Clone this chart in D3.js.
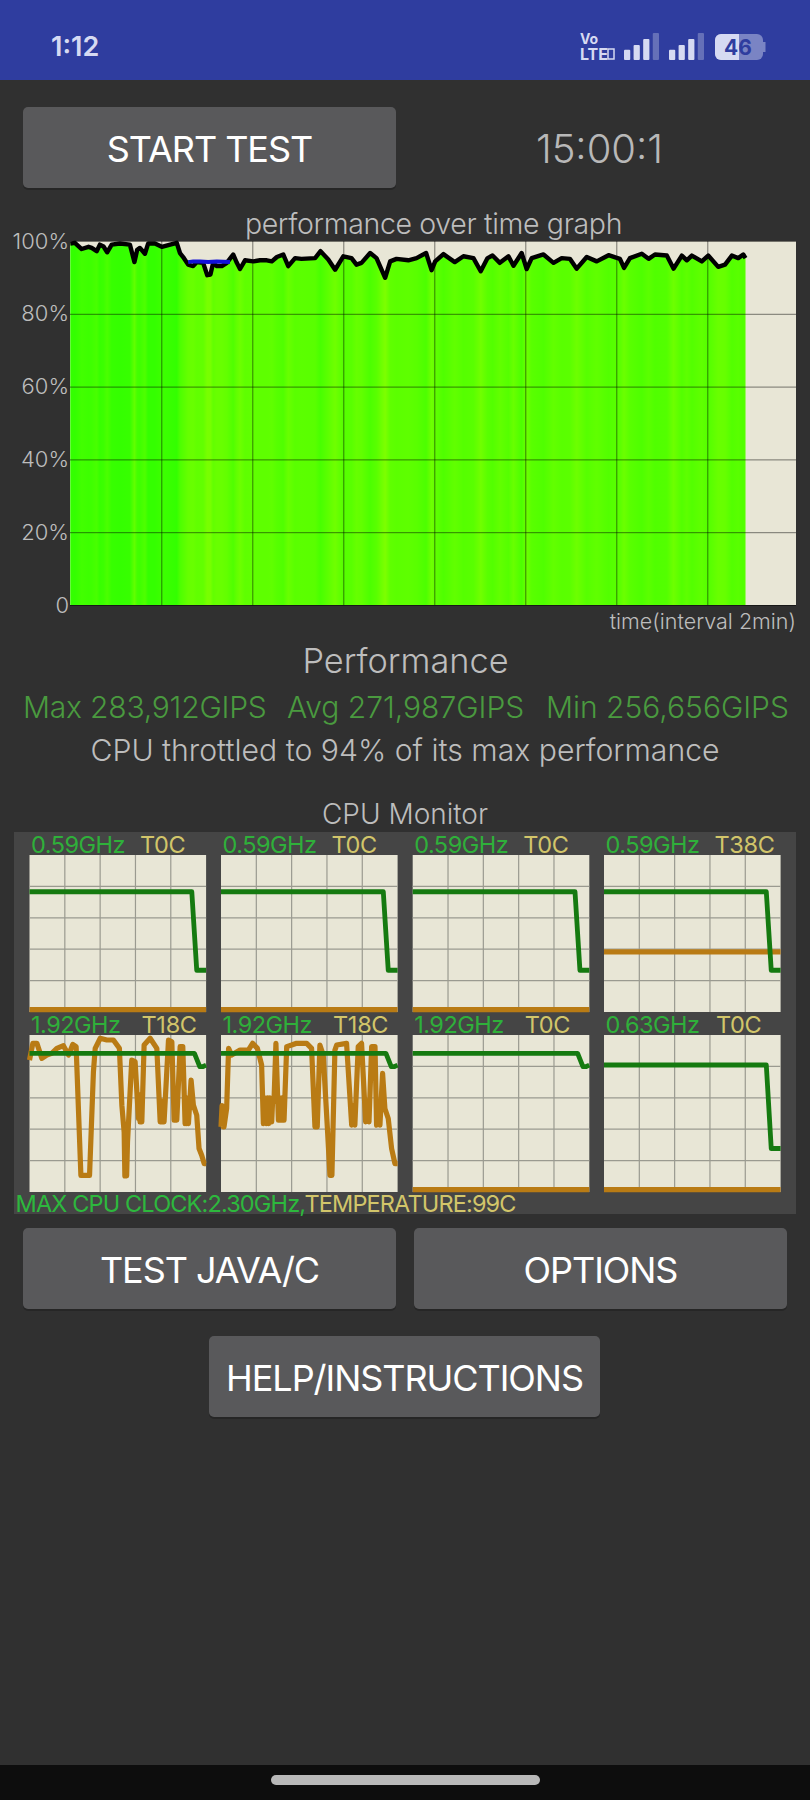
<!DOCTYPE html>
<html>
<head>
<meta charset="utf-8">
<script src="https://cdn.jsdelivr.net/npm/d3@7/dist/d3.min.js"></script>
<style>
  html, body { margin: 0; padding: 0; background: #303030; }
  svg { display: block; font-family: Inter, "Noto Sans", sans-serif; }
</style>
</head>
<body>
<div id="chart"></div>
<script>
// performance over time, minutes / percent of max
const perfTime = [0,0.1,0.25,0.4,0.47,0.58,0.65,0.73,0.81,0.91,1.09,1.31,1.41,1.47,1.53,1.64,1.71,1.86,2.01,2.34,2.41,2.48,2.59,2.7,2.78,2.92,3.01,3.08,3.14,3.22,3.33,3.44,3.58,3.66,3.73,3.84,4.02,4.17,4.32,4.43,4.54,4.68,4.79,4.94,5.08,5.38,5.5,5.67,5.82,6,6.18,6.29,6.4,6.59,6.73,6.92,7.03,7.17,7.43,7.61,7.82,7.94,8.02,8.2,8.45,8.64,8.86,9.02,9.17,9.28,9.44,9.63,9.74,9.92,10.03,10.14,10.4,10.62,10.8,10.98,11.13,11.35,11.57,11.83,12.08,12.17,12.3,12.56,12.71,12.85,13.11,13.26,13.44,13.55,13.66,13.88,14.02,14.24,14.39,14.54,14.68,14.79,14.84];
const perfValue = [99.3,99.5,97.8,98.4,98.1,97.2,99,98.5,96.9,99,99.3,99,94.2,97.6,98.1,96.5,99.3,99.3,98.4,99.5,96.7,95.6,93.5,93.1,94.2,94,90.6,90.8,94,93.1,93.1,94,96.3,94,92.3,94.7,94.4,94.7,94.7,94.4,95.6,96.3,93.1,95.3,95.1,95.3,97.2,94.9,92.1,95.8,95.3,93.5,94,96.7,95.3,89.9,94.4,95.1,94.7,95.3,96.7,92,94.4,96.4,94.2,95.8,95.3,91.7,95.3,96,94,95.8,93.2,96.7,92.3,95.3,96.3,94,95.3,95.1,92.4,95.6,94.4,96.1,95.1,92.6,95.3,96.5,95.1,96.3,96,92.4,96,94.7,96,94.4,96,92.9,93.5,96,95.3,96.3,95.3];
const blueTime = [2.59,2.7,2.85,3.03,3.22,3.51];
const blueValue = [94.2,94.4,94.4,94.2,94.4,94.2];
const yTicks = [0,20,40,60,80,100];
const xTicks = [2,4,6,8,10,12,14];

// CPU monitor, percent of time span / percent of cell height
const stepX = [0,91.9,94.7,100];
const stepLow = [76.6,76.6,26.6,26.6];
const stepFour = [80.9,80.9,27.7,27.7];
const bigCoreX = [0,93.4,96.4,98,100];
const bigCoreFreq = [88.3,88.3,79.8,79.8,80.8];
const coreLabels = ["0.59GHz","0.59GHz","0.59GHz","0.59GHz","1.92GHz","1.92GHz","1.92GHz","0.63GHz"];
const tempLabels = ["T0C","T0C","T0C","T38C","T18C","T18C","T0C","T0C"];
const flatTemp = [1.5,1.5,1.5,38.3];

const core5X = [0,1.9,4.2,7,9.8,12.6,15.5,19.2,22.1,24.5,26.4,29.1,34,36.2,37.2,40,43.8,47.5,50.9,52.3,53.6,54,54.5,55,55.5,57.9,59.8,61.7,62.1,62.6,63,63.6,64.9,68.3,72.1,74,74.6,75.2,75.8,76.2,78.7,80.6,81.9,82.4,82.9,83.4,85.3,86.8,88.1,88.6,89.1,89.6,90,91.5,92.8,94.7,96,97.5,98.9,100];
const core5T = [84,94.7,94.7,85.1,87.2,88.3,91.5,93.2,87.2,94,92.6,10.6,10.6,76.6,91.5,97.9,96.8,96.8,91.5,55.3,38,10.2,32,10.2,32,84,83,46.8,62,44.7,60,44.7,93.6,97.9,91.5,44.7,58,44.7,58,44.7,96.8,95.7,45.7,60,45.7,45.7,92.6,92.6,43.6,60,43.6,60,43.6,71.3,55.3,48.9,27.7,23.4,18.1,18.1];
const core6X = [0,0.6,1.2,1.7,3.2,4.3,6,10.8,15.5,17.9,20.6,23,24,24.8,25.6,26.4,27,27.7,28.7,29.3,30,31.1,32.5,33.2,33.9,34.6,35.3,35.7,37.2,40,42.8,48.5,51.3,53.2,53.8,54.5,56,57.9,60.2,61.7,62.2,62.8,64.5,65.5,71.1,74,74.9,75.8,77.7,79.6,81.9,82.8,83.8,85.3,87.2,88.1,89,90,91.5,92.8,94.7,96.6,98.5,100];
const core6T = [41.5,55,41.5,41.5,53.2,91.5,87.2,90.4,90.4,94.7,91.5,80.9,43.6,60,43.6,60,43.6,60,44.7,60,57.4,94.7,45.7,60,45.7,60,45.7,45.7,92.6,93.6,94.7,94.7,91.5,41.5,52,41.5,93.6,87.2,41.5,10.6,30,10.6,90.4,93.6,94.7,42.6,55,42.6,92.6,94.7,44.7,58,44.7,92.6,92.6,42.6,56,42.6,75.5,53.2,46.8,27.7,18.1,18.1];

const signalLevels = [0.38,0.56,0.78,1];

const svg = d3.select("#chart").append("svg").attr("width", 810).attr("height", 1800);

function label(x, y, text, size, color, weight, anchor, spacing) {
  return svg.append("text")
    .attr("x", x).attr("y", y)
    .attr("font-size", size)
    .attr("font-weight", weight || 300)
    .attr("fill", color)
    .attr("text-anchor", anchor || "start")
    .attr("letter-spacing", spacing || 0)
    .text(text);
}

function button(x, y, w, h, text) {
  svg.append("rect").attr("x", x).attr("y", y + 2).attr("width", w).attr("height", h)
    .attr("rx", 5).attr("fill", "#262626");
  svg.append("rect").attr("x", x).attr("y", y).attr("width", w).attr("height", h)
    .attr("rx", 5).attr("fill", "#59595b");
  label(x + w / 2, y + 55, text, 36, "#ffffff", 400, "middle", -1.05);
}

// page frame
svg.append("rect").attr("width", 810).attr("height", 1800).attr("fill", "#303030");
svg.append("rect").attr("width", 810).attr("height", 80).attr("fill", "#2f3d9f");
svg.append("rect").attr("y", 1765).attr("width", 810).attr("height", 35).attr("fill", "#0d0d0d");
svg.append("rect").attr("x", 271).attr("y", 1775).attr("width", 269).attr("height", 10).attr("rx", 5).attr("fill", "#b8b8b8");

// status bar
label(51, 56, "1:12", 27, "#d6daf2", 600);
label(580, 44, "Vo", 14, "#d6daf2", 700);
label(580, 60, "LTE", 16, "#d6daf2", 700);
svg.append("rect").attr("x", 608).attr("y", 49).attr("width", 6).attr("height", 10)
  .attr("fill", "none").attr("stroke", "#d6daf2").attr("stroke-width", 1.5);

[624, 669].forEach(x0 => {
  const sx = d3.scaleBand().domain(d3.range(4)).range([x0, x0 + 35]).paddingInner(0.35);
  const sy = d3.scaleLinear().domain([0, 1]).range([60, 33]);
  svg.selectAll(null).data(signalLevels).join("rect")
    .attr("x", (d, i) => sx(i)).attr("width", sx.bandwidth())
    .attr("y", d => sy(d)).attr("height", d => 60 - sy(d))
    .attr("rx", 1)
    .attr("fill", (d, i) => i == 3 ? "#6570b8" : "#d6daf2");
});

svg.append("rect").attr("x", 715).attr("y", 34).attr("width", 48).attr("height", 26).attr("rx", 6).attr("fill", "#7a84c4");
svg.append("path").attr("d", "M715,40 a6,6 0 0 1 6,-6 h18 v26 h-18 a6,6 0 0 1 -6,-6 z").attr("fill", "#d6daf2");
svg.append("rect").attr("x", 763).attr("y", 42).attr("width", 2.5).attr("height", 10).attr("fill", "#7a84c4");
label(738, 55, "46", 21, "#2f3d9f", 700, "middle");

// top row
button(23, 107, 373, 81, "START TEST");
label(599.5, 163, "15:00:1", 40, "#b8b8b8", 300, "middle");
label(433.5, 234, "performance over time graph", 28.5, "#bdbdbd", 300, "middle", -0.35);

// performance graph
const plot = { left: 70, right: 796, top: 241, bottom: 605 };
const x = d3.scaleLinear().domain([0, 16]).range([70.3, 798.3]);
const y = d3.scaleLinear().domain([0, 100]).range([plot.bottom, plot.top]);
const bandColor = d3.scaleLinear().domain([90, 95, 100]).range(["#7cff00", "#5cff00", "#2eff00"]);
const perf = perfTime.map((t, i) => ({ t: t, v: perfValue[i] }));

svg.append("rect").attr("x", plot.left).attr("y", plot.top)
  .attr("width", plot.right - plot.left).attr("height", plot.bottom - plot.top)
  .attr("fill", "#e8e6d6");

const grad = svg.append("defs").append("linearGradient").attr("id", "bands")
  .attr("gradientUnits", "userSpaceOnUse")
  .attr("x1", x(0)).attr("x2", x(16)).attr("y1", 0).attr("y2", 0);
grad.selectAll("stop").data(perf).join("stop")
  .attr("offset", d => d.t / 16)
  .attr("stop-color", d => bandColor(d.v));

svg.append("path").datum(perf)
  .attr("d", d3.area().x(d => x(d.t)).y0(y(0)).y1(d => y(d.v)))
  .attr("fill", "url(#bands)");

const yAxis = svg.append("g").attr("transform", `translate(${plot.left},0)`)
  .call(d3.axisLeft(y).tickValues(yTicks).tickFormat(d => d == 0 ? "0" : d + "%")
    .tickSize(-(plot.right - plot.left)).tickPadding(1));
const xAxis = svg.append("g").attr("transform", `translate(0,${plot.bottom})`)
  .call(d3.axisBottom(x).tickValues(xTicks).tickFormat("").tickSize(-(plot.bottom - plot.top)));
[yAxis, xAxis].forEach(g => {
  g.select(".domain").remove();
  g.selectAll("line").attr("stroke", "#000").attr("stroke-opacity", 0.5).attr("stroke-width", 1);
});
yAxis.selectAll("text").attr("font-size", 22).attr("font-weight", 300)
  .attr("font-family", "Inter").attr("fill", "#bdbdbd");

const perfLine = d3.line().x(d => x(d.t)).y(d => y(d.v));
svg.append("path").datum(perf).attr("d", perfLine)
  .attr("fill", "none").attr("stroke", "#000").attr("stroke-width", 4.4).attr("stroke-linejoin", "round");
svg.append("path").datum(blueTime.map((t, i) => ({ t: t, v: blueValue[i] }))).attr("d", perfLine)
  .attr("fill", "none").attr("stroke", "#1212d8").attr("stroke-width", 4);

label(796, 629, "time(interval 2min)", 21.5, "#bdbdbd", 300, "end");

// summary
label(405.5, 673, "Performance", 34.3, "#bdbdbd", 300, "middle");
label(23, 718, "Max 283,912GIPS", 30, "#4a9a3f", 300, "start", -0.2);
label(287, 718, "Avg 271,987GIPS", 30, "#4a9a3f", 300);
label(546, 718, "Min 256,656GIPS", 30, "#4a9a3f", 300);
label(405, 761, "CPU throttled to 94% of its max performance", 30.2, "#bdbdbd", 300, "middle");
label(405, 824, "CPU Monitor", 28, "#bdbdbd", 300, "middle");

// cpu monitor
svg.append("rect").attr("x", 14).attr("y", 832).attr("width", 782).attr("height", 382).attr("fill", "#454545");

const cellLefts = [29.5, 221, 412.7, 604];
const cellTops = [855, 1035];
const cellW = 176.6, cellH = 157;
const cellTicks = [20, 40, 60, 80];

const cores = [
  { fx: stepX, f: stepLow, tx: [0, 100], t: [flatTemp[0], flatTemp[0]] },
  { fx: stepX, f: stepLow, tx: [0, 100], t: [flatTemp[1], flatTemp[1]] },
  { fx: stepX, f: stepLow, tx: [0, 100], t: [flatTemp[2], flatTemp[2]] },
  { fx: stepX, f: stepLow, tx: [0, 100], t: [flatTemp[3], flatTemp[3]] },
  { fx: bigCoreX, f: bigCoreFreq, tx: core5X, t: core5T },
  { fx: bigCoreX, f: bigCoreFreq, tx: core6X, t: core6T },
  { fx: bigCoreX, f: bigCoreFreq, tx: [0, 100], t: [flatTemp[0], flatTemp[0]] },
  { fx: stepX, f: stepFour, tx: [0, 100], t: [flatTemp[0], flatTemp[0]] }
];

cores.forEach((core, i) => {
  const left = cellLefts[i % 4], top = cellTops[Math.floor(i / 4)];
  const cx = d3.scaleLinear().domain([0, 100]).range([left, left + cellW]);
  const cy = d3.scaleLinear().domain([0, 100]).range([top + cellH, top]);
  const g = svg.append("g");
  g.append("rect").attr("x", left).attr("y", top).attr("width", cellW).attr("height", cellH).attr("fill", "#e8e6d6");
  g.selectAll(".v").data(cellTicks).join("line").attr("class", "v")
    .attr("x1", d => cx(d)).attr("x2", d => cx(d)).attr("y1", top).attr("y2", top + cellH)
    .attr("stroke", "#9a9a90").attr("stroke-width", 1.2);
  g.selectAll(".h").data(cellTicks).join("line").attr("class", "h")
    .attr("y1", d => cy(d)).attr("y2", d => cy(d)).attr("x1", left).attr("x2", left + cellW)
    .attr("stroke", "#9a9a90").attr("stroke-width", 1.2);

  const line = d3.line().x(d => cx(d[0])).y(d => cy(d[1]));
  g.append("path").datum(core.tx.map((v, j) => [v, core.t[j]])).attr("d", line)
    .attr("fill", "none").attr("stroke", "#b97b14").attr("stroke-width", 5.2).attr("stroke-linejoin", "round");
  g.append("path").datum(core.fx.map((v, j) => [v, core.f[j]])).attr("d", line)
    .attr("fill", "none").attr("stroke", "#157a10").attr("stroke-width", 4.8).attr("stroke-linejoin", "round");

  label(left + 1.5, top - 2.5, coreLabels[i], 23.5, "#2fb03a", 400, "start", -0.5);
  label(left + (i < 4 ? 110.5 : 112), top - 2.5, tempLabels[i], 23.5, "#d2c56a", 400, "start", -0.3);
});

const maxLabel = label(15.5, 1212, "MAX CPU CLOCK:2.30GHz,", 23.5, "#2db83d", 400, "start", -0.85);
maxLabel.append("tspan").attr("fill", "#d2c56a").text("TEMPERATURE:99C");

// buttons
button(23, 1228, 373, 81, "TEST JAVA/C");
button(414, 1228, 373, 81, "OPTIONS");
button(209, 1336, 391, 81, "HELP/INSTRUCTIONS");
</script>
</body>
</html>
